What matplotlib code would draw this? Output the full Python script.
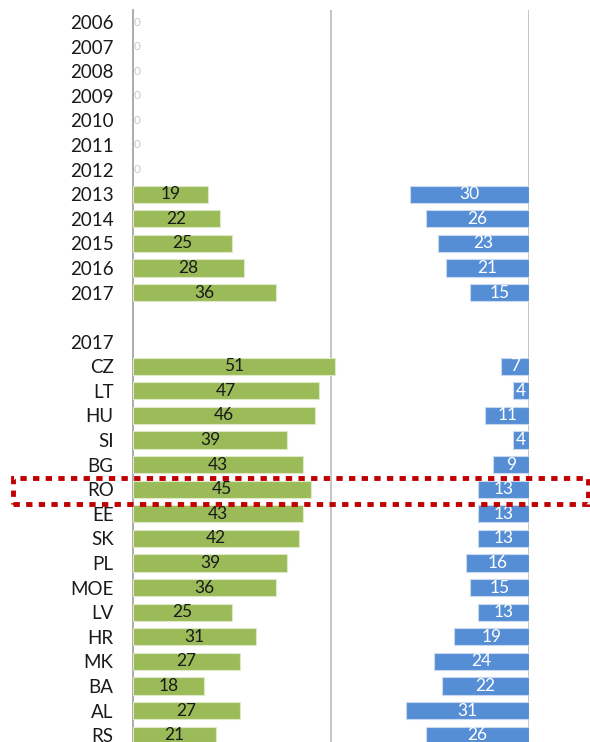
import matplotlib.pyplot as plt
from matplotlib.patches import Rectangle

years = ["2006", "2007", "2008", "2009", "2010", "2011", "2012",
         "2013", "2014", "2015", "2016", "2017"]
green_years = [0, 0, 0, 0, 0, 0, 0, 19, 22, 25, 28, 36]
blue_years = [0, 0, 0, 0, 0, 0, 0, 30, 26, 23, 21, 15]

countries = ["CZ", "LT", "HU", "SI", "BG", "RO", "EE", "SK",
             "PL", "MOE", "LV", "HR", "MK", "BA", "AL", "RS"]
green_countries = [51, 47, 46, 39, 43, 45, 43, 42, 39, 36, 25, 31, 27, 18, 27, 21]
blue_countries = [7, 4, 11, 4, 9, 13, 13, 13, 16, 15, 13, 19, 24, 22, 31, 26]

GREEN = "#9BBB59"
BLUE = "#558ED5"
FONT = "Lato"

# row layout: years, blank row, "2017" header, countries
labels = years + ["", "2017"] + countries
green = green_years + [None, None] + green_countries
blue = blue_years + [None, None] + blue_countries
rows = list(range(len(labels)))

fig = plt.figure(figsize=(5.9, 7.42), dpi=100)
ax = fig.add_axes([133 / 590, 0, (529 - 133) / 590, 732 / 742])

for y, g, b in zip(rows, green, blue):
    if g is None:
        continue
    if g > 0:
        ax.barh(y, g, height=0.7, color=GREEN, edgecolor="#dfe9c8", linewidth=0.8, zorder=3)
        ax.text(g / 2, y, str(g), ha="center", va="center", fontsize=12.5,
                family=FONT, color="#1a1a1a", zorder=4)
    else:
        # empty years: only a faint zero label
        ax.text(0.9, y, "0", ha="center", va="center", fontsize=8.5,
                family=FONT, color="#c8c8c8", zorder=4)
    if b > 0:
        ax.barh(y, b, left=100 - b, height=0.7, color=BLUE, edgecolor="#c9d9ef",
                linewidth=0.8, zorder=3)
        ax.text(100 - b / 2, y, str(b), ha="center", va="center", fontsize=12.5,
                family=FONT, color="white", zorder=4)

ax.set_xlim(0, 100)
ax.set_ylim(29.28, -0.49)
ax.set_yticks(rows)
ax.set_yticklabels(labels, family=FONT, fontsize=13.5, color="#1a1a1a")
ax.tick_params(axis="y", length=0, pad=14)
ax.set_xticks([])
for x in (50, 100):
    ax.axvline(x, color="#c0c0c0", linewidth=1.3, zorder=1)
for s in ("top", "right", "bottom"):
    ax.spines[s].set_visible(False)
ax.spines["left"].set_color("#a6a6a6")
ax.spines["left"].set_linewidth(1.3)

# dotted highlight around RO
fig.patches.append(Rectangle((13 / 590, 1 - 504 / 742), (588 - 13) / 590, 26 / 742,
                             transform=fig.transFigure, fill=False, edgecolor="#C00000",
                             linewidth=3.5, linestyle=(0, (1.3, 1.3)), zorder=10))

fig.savefig("out.png", dpi=100)
